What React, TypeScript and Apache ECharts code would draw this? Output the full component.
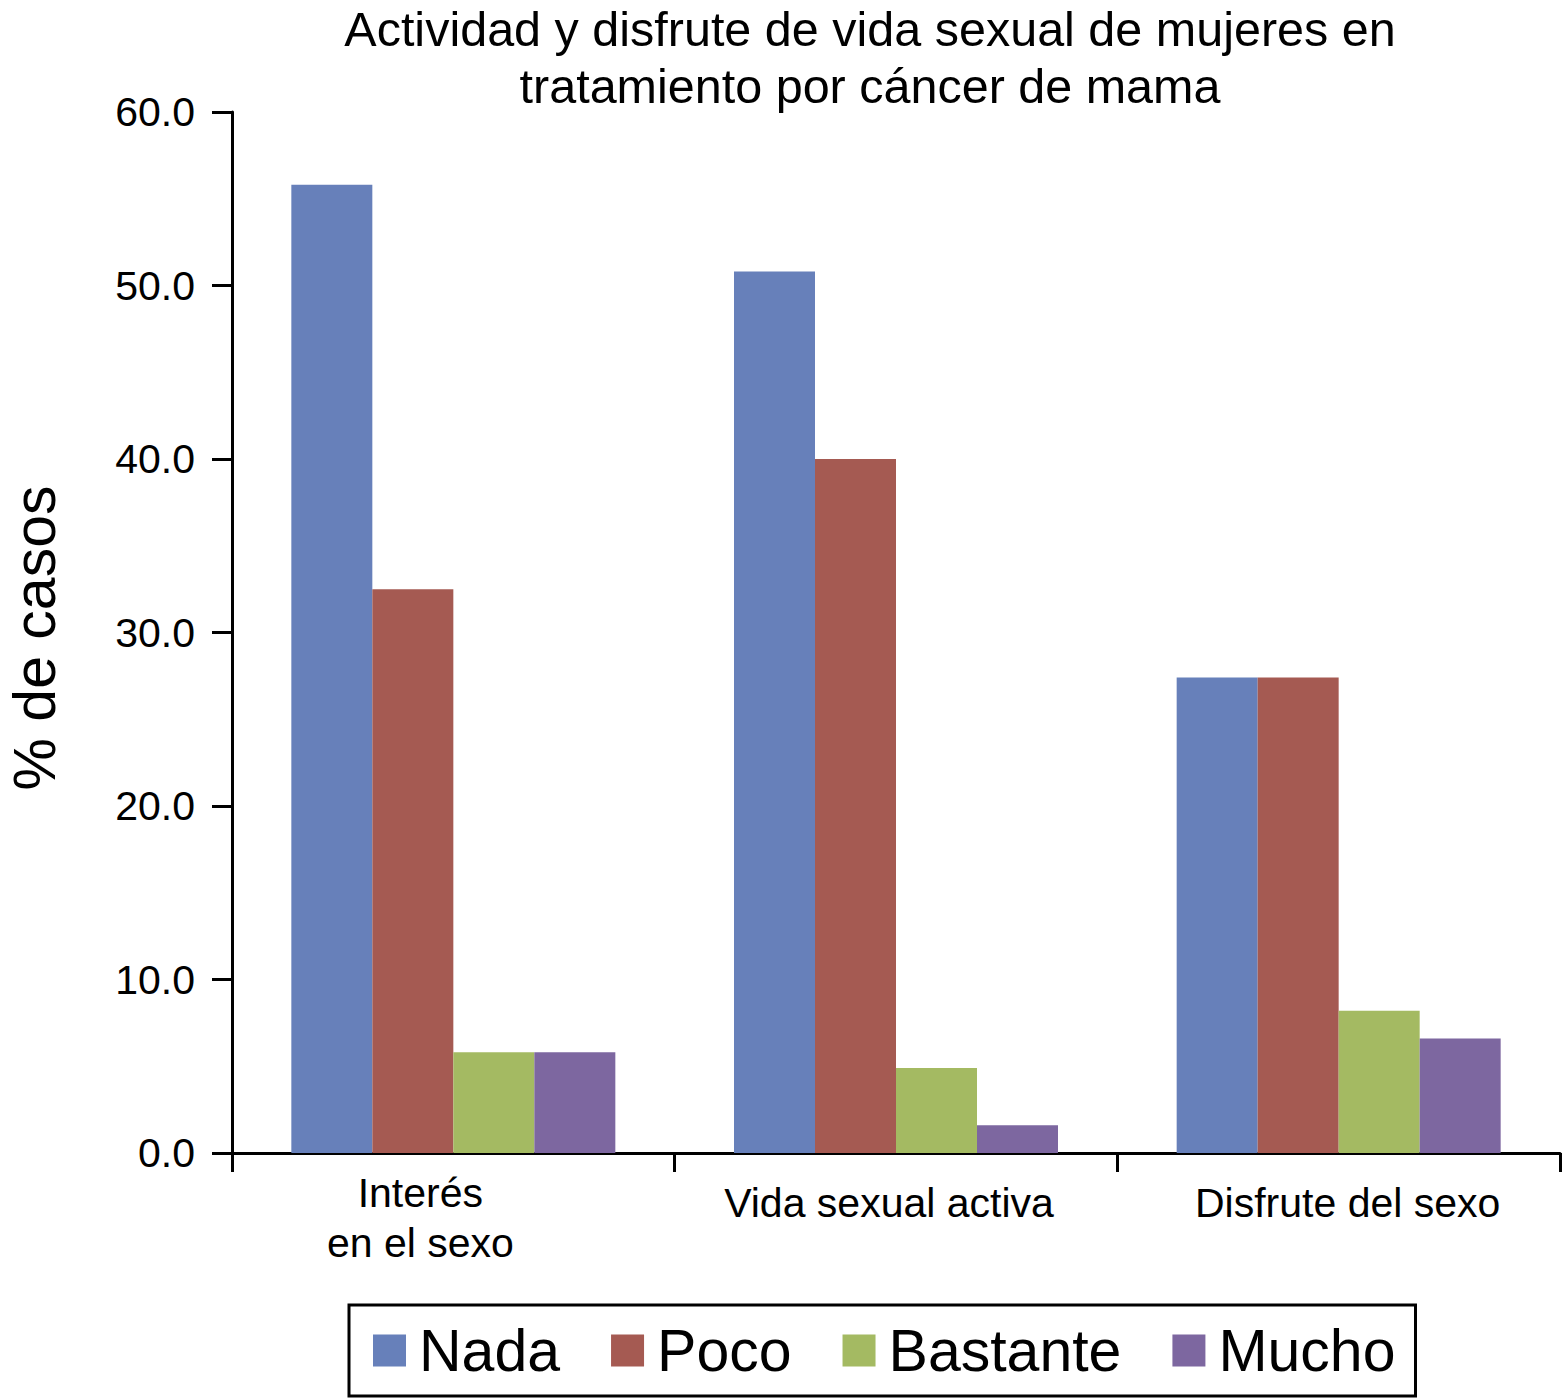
import React, { useEffect, useRef } from "react";
import * as echarts from "echarts";

const categories = ["Interés\nen el sexo", "Vida sexual activa", "Disfrute del sexo"];
const seriesNames = ["Nada", "Poco", "Bastante", "Mucho"];
const nada = [55.8, 50.8, 27.4];
const poco = [32.5, 40.0, 27.4];
const bastante = [5.8, 4.9, 8.2];
const mucho = [5.8, 1.6, 6.6];
const colors = ["#6780BA", "#A55A52", "#A4BA62", "#7D67A0"];
const titleText = "Actividad y disfrute de vida sexual de mujeres en\ntratamiento por cáncer de mama";
const yName = "% de casos";

const FONT = "'Liberation Sans', Arial, Helvetica, sans-serif";

export default function App() {
  const ref = useRef<HTMLDivElement>(null);
  useEffect(() => {
    if (!ref.current) return;
    const chart = echarts.init(ref.current, undefined, { renderer: "svg" });
    const values = [nada, poco, bastante, mucho];
    const labelPads = [
      [0, 66, 0, 0],
      [10, 14, 0, 0],
      [10, 0, 0, 18],
    ];
    chart.setOption({
      animation: false,
      backgroundColor: "#ffffff",
      textStyle: { fontFamily: FONT },
      grid: { left: 232, right: 3, top: 112, bottom: 247, containLabel: false },
      graphic: [
        {
          type: "text",
          x: 870,
          y: 0,
          style: {
            text: titleText,
            fontSize: 48.5,
            lineHeight: 57,
            fontFamily: FONT,
            fill: "#000",
            align: "center",
            verticalAlign: "top",
          },
        },
        {
          type: "text",
          x: 35,
          y: 638,
          rotation: Math.PI / 2,
          style: {
            text: yName,
            fontSize: 59,
            fontFamily: FONT,
            fill: "#000",
            align: "center",
            verticalAlign: "middle",
          },
        },
      ],
      legend: {
        data: seriesNames,
        left: 349,
        top: 1305,
        orient: "horizontal",
        icon: "rect",
        itemWidth: 33,
        itemHeight: 32,
        itemGap: 51,
        padding: [16, 20, 16, 24],
        borderColor: "#000",
        borderWidth: 3,
        borderRadius: 0,
        textStyle: { fontSize: 59, color: "#000", fontFamily: FONT, padding: [0, 0, 0, 8] },
      },
      xAxis: {
        type: "category",
        data: categories.map((c, i) => ({
          value: c,
          textStyle: { padding: labelPads[i] },
        })),
        boundaryGap: true,
        axisLine: { show: true, lineStyle: { color: "#000", width: 3 } },
        axisTick: { show: true, alignWithLabel: false, length: 19, lineStyle: { color: "#000", width: 3 } },
        axisLabel: {
          color: "#000",
          fontSize: 41,
          lineHeight: 50,
          fontFamily: FONT,
          margin: 15,
          interval: 0,
        },
        splitLine: { show: false },
      },
      yAxis: {
        type: "value",
        min: 0,
        max: 60,
        interval: 10,
        axisLine: { show: true, lineStyle: { color: "#000", width: 3 } },
        axisTick: { show: true, length: 20, lineStyle: { color: "#000", width: 3 } },
        axisLabel: {
          color: "#000",
          fontSize: 41,
          fontFamily: FONT,
          margin: 37,
          formatter: (v: number) => v.toFixed(1),
        },
        splitLine: { show: false },
      },
      series: seriesNames.map((name, i) => ({
        name,
        type: "bar",
        data: values[i],
        barWidth: 81,
        barGap: "0%",
        itemStyle: { color: colors[i] },
      })),
    });
    return () => chart.dispose();
  }, []);
  return (
    <div
      ref={ref}
      style={{ position: "absolute", left: 0, top: 0, width: 1563, height: 1400 }}
    />
  );
}
